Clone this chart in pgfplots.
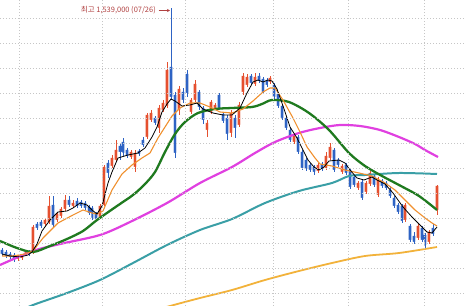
\documentclass[border=0pt]{standalone}
\usepackage{fontspec}
\usepackage{pgfplots}
\usepackage{pgfplotstable}
\pgfplotsset{compat=1.18}
\usetikzlibrary{arrows.meta}
\newfontfamily\kr{Noto Sans CJK KR}
\definecolor{cup}{HTML}{E5502F}
\definecolor{cdn}{HTML}{2E63C4}
\definecolor{maorange}{HTML}{F0902E}
\definecolor{magreen}{HTML}{1F7A1F}
\definecolor{mamag}{HTML}{E040E0}
\definecolor{mateal}{HTML}{3A9FA6}
\definecolor{magold}{HTML}{F2B23A}
\definecolor{anncol}{HTML}{B04040}

\pgfplotstableread{
x o h l c
2 572 580 548 556
6 564 572 540 548
10 556 564 536 544
14 552 560 524 532
18 536 552 528 548
22 540 556 532 552
26 552 572 548 564
29 564 572 548 556
33 564 672 556 664
37 676 684 652 660
41 684 692 660 668
45 676 700 668 692
49 684 788 676 748
53 752 788 660 672
57 692 724 684 716
61 708 744 700 736
65 736 792 728 772
69 772 788 744 752
73 748 772 740 760
77 768 780 740 748
81 764 772 740 748
85 760 768 732 740
89 744 752 712 720
92 740 748 692 700
96 716 724 688 696
100 704 756 696 748
104 752 912 748 904
108 920 932 860 880
112 908 952 900 940
116 932 1012 924 972
120 988 996 932 964
123 1004 1020 948 960
127 972 980 940 948
131 944 972 936 964
135 904 972 884 960
139 968 976 948 956
143 1012 1024 984 992
147 1024 1120 1016 1112
151 1092 1132 1084 1120
155 1100 1108 1072 1080
159 1060 1152 1040 1140
163 1132 1172 1124 1160
167 1148 1324 1140 1292
171 1304 1540 1172 1184
175 1192 1204 940 960
179 1132 1228 1112 1216
183 1204 1220 1160 1172
187 1276 1292 1184 1200
191 1124 1180 1116 1172
195 1172 1252 1164 1236
199 1204 1212 1132 1144
203 1140 1148 1076 1092
207 1052 1092 1024 1080
211 1124 1172 1116 1164
215 1140 1160 1132 1152
219 1192 1200 1132 1140
223 1116 1124 1080 1088
227 1100 1112 1012 1036
231 1040 1132 1024 1120
235 1100 1112 1020 1060
239 1072 1164 1064 1152
243 1204 1280 1192 1268
247 1232 1276 1224 1264
251 1268 1276 1232 1240
255 1236 1280 1228 1264
259 1268 1280 1240 1248
263 1256 1264 1196 1204
267 1252 1260 1224 1232
270 1244 1268 1236 1260
274 1232 1240 1176 1184
278 1196 1204 1140 1148
282 1148 1156 1092 1100
286 1100 1108 1052 1060
290 1052 1060 1004 1012
294 1004 1036 996 1028
298 1024 1032 956 964
302 964 972 892 900
306 932 940 888 896
310 912 920 884 892
314 904 912 872 884
318 888 920 880 912
322 916 924 888 896
326 900 964 892 948
330 940 1000 932 984
334 972 980 884 892
338 932 940 904 912
342 884 916 876 908
346 912 920 872 880
350 892 900 816 824
354 864 872 824 832
358 820 848 812 840
362 844 852 772 780
366 804 848 796 840
370 836 888 828 880
374 868 876 824 832
378 792 864 784 852
382 848 856 820 828
386 840 848 812 820
390 812 828 780 788
394 780 788 740 748
398 752 760 716 724
402 748 756 680 688
405 692 760 684 752
410 668 676 604 612
414 628 644 596 604
418 620 676 612 668
422 660 668 604 612
425 632 640 580 592
429 604 652 596 644
433 660 676 628 636
437 732 832 712 828
}\candles

\begin{document}
\begin{tikzpicture}
\begin{axis}[
  width=464bp, height=306bp, scale only axis,
  xmin=0, xmax=464, ymin=348, ymax=1572,
  xtick={19,102,185,273,348,424},
  ytick={400,500,...,1500},
  xticklabels={}, yticklabels={},
  grid=major,
  grid style={dash pattern=on 0.8pt off 2.2pt, color=gray!45, line width=0.6pt},
  axis line style={draw=none},
  tick style={draw=none},
  axis on top,
  clip=true,
]
% candle bodies: coloured bar up to the upper end of the body ...
\addplot[ybar, bar width=2.8pt, bar shift=0pt, fill=cup, draw=none,
  restrict expr to domain={\thisrow{c}-\thisrow{o}}{0:100000}]
  table[x=x, y=c] {\candles};
\addplot[ybar, bar width=2.8pt, bar shift=0pt, fill=cdn, draw=none,
  restrict expr to domain={\thisrow{o}-\thisrow{c}}{0.001:100000}]
  table[x=x, y=o] {\candles};
% ... and white below the lower end of the body
\addplot[ybar, bar width=4.8pt, bar shift=0pt, fill=white, draw=none]
  table[x=x, y expr={min(\thisrow{o},\thisrow{c})}] {\candles};
% wicks (low to high)
\addplot[cup, mark=none, line width=0.6pt,
  restrict expr to domain={\thisrow{c}-\thisrow{o}}{0:100000},
  quiver={u=0, v=\thisrow{h}-\thisrow{l}, every arrow/.append style={arrows=-}}]
  table[x=x, y=l] {\candles};
\addplot[cdn, mark=none, line width=0.6pt,
  restrict expr to domain={\thisrow{o}-\thisrow{c}}{0.001:100000},
  quiver={u=0, v=\thisrow{h}-\thisrow{l}, every arrow/.append style={arrows=-}}]
  table[x=x, y=l] {\candles};

% moving averages
\addplot[magold, line width=1.8pt, smooth, mark=none] coordinates {
(160,336) (170,348) (200,380) (232,412) (265,452) (299,488) (332,520) (365,548) (399,560) (437,584)};
\addplot[mateal, line width=2pt, smooth, mark=none] coordinates {
(20,328) (33,352) (67,400) (100,452) (133,520) (167,592) (200,652) (232,696) (265,760) (299,808) (332,840) (349,868) (365,872) (399,880) (437,876)};
\addplot[mamag, line width=2.2pt, smooth, mark=none] coordinates {
(0,512) (33,568) (60,596) (100,632) (130,684) (167,760) (200,840) (232,904) (255,960) (275,1004) (299,1040) (320,1060) (340,1072) (360,1068) (380,1052) (399,1024) (415,996) (425,972) (438,944)};
\addplot[magreen, line width=2.3pt, smooth, mark=none] coordinates {
(0,608) (17,580) (33,564) (50,588) (67,616) (83,648) (97,692) (117,748) (133,792) (145,836) (155,884) (165,964) (175,1036) (185,1084) (198,1120) (215,1136) (232,1140) (252,1144) (262,1156) (272,1172) (289,1164) (309,1120) (329,1052) (349,960) (365,908) (382,868) (399,832) (419,788) (437,732)};
\addplot[maorange, line width=1.1pt, mark=none] coordinates {
(2,548) (13,548) (25,556) (33,568) (43,620) (58,680) (73,712) (83,732) (92,720) (97,716) (103,728) (112,812) (122,876) (132,912) (142,940) (150,960) (158,1020) (165,1064) (172,1108) (180,1140) (190,1160) (200,1160) (210,1144) (220,1124) (232,1120) (243,1136) (253,1168) (263,1204) (270,1220) (275,1220) (283,1172) (293,1100) (300,1044) (307,984) (315,940) (320,916) (332,908) (345,892) (359,880) (372,868) (385,840) (395,812) (405,772) (415,732) (425,700) (432,680) (437,668)};
\addplot[black, line width=0.8pt, mark=none] coordinates {
(2,556) (10,548) (20,544) (28,552) (32,564) (37,596) (42,648) (50,692) (58,724) (67,728) (73,740) (80,760) (87,752) (92,732) (97,716) (102,748) (108,840) (112,884) (118,940) (128,952) (138,960) (145,980) (152,1024) (157,1064) (162,1124) (167,1156) (171,1176) (175,1168) (182,1148) (190,1152) (197,1160) (203,1136) (213,1120) (223,1112) (232,1112) (240,1140) (247,1200) (253,1244) (258,1252) (263,1244) (268,1252) (272,1248) (277,1216) (283,1148) (290,1064) (297,1020) (302,980) (308,932) (314,904) (319,892) (324,904) (329,928) (339,932) (345,920) (350,892) (357,860) (364,852) (372,864) (377,852) (385,836) (393,800) (403,744) (412,704) (420,672) (427,644) (432,640) (437,664)};

\node[anchor=east, text=anncol, inner sep=0pt, font=\kr\fontsize{7.5}{9}\selectfont] at (axis cs:156,1530) {최고 1,539,000 (07/26)};
\draw[anncol, line width=0.5pt, -{Stealth[length=3pt,width=3pt]}] (axis cs:158.5,1530) -- (axis cs:170,1530);

\coordinate (sw) at (rel axis cs:0,0);
\coordinate (ne) at (rel axis cs:1,1);
\end{axis}
\pgfresetboundingbox
\path[use as bounding box] (sw) rectangle (ne);
\end{tikzpicture}
\end{document}
